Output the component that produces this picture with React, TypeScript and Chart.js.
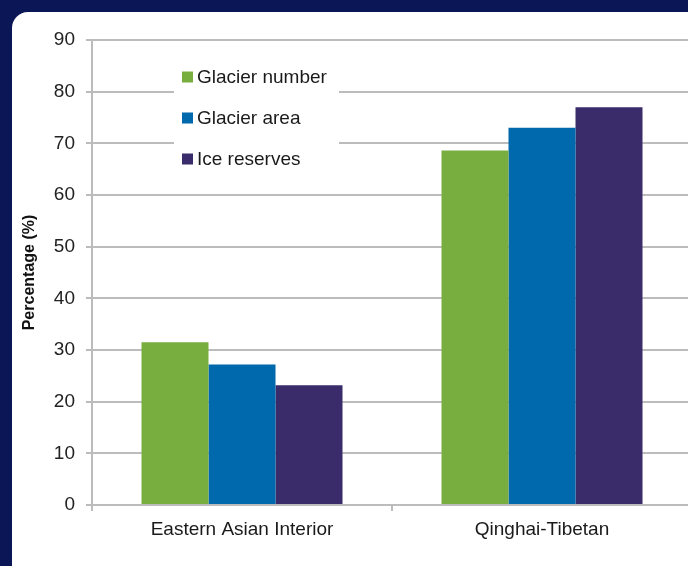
import React, { useEffect, useRef } from "react";
import { Chart, registerables } from "chart.js";

Chart.register(...registerables);

const categories = ["Eastern Asian Interior", "Qinghai-Tibetan"];
const seriesNames = ["Glacier number", "Glacier area", "Ice reserves"];
const glacierNumber = [31.5, 68.6];
const glacierArea = [27.2, 73.0];
const iceReserves = [23.2, 77.0];
const seriesColors = ["#78ad40", "#0068ad", "#3a2c6b"];
const yMin = 0;
const yMax = 90;
const yStep = 10;
const yTitle = "Percentage (%)";

const FONT = '"Liberation Sans", Arial, Helvetica, sans-serif';
const GRID = "#bcbcbc";

const insideLegend = {
  id: "insideLegend",
  afterDatasetsDraw(chart: any) {
    const { ctx, chartArea } = chart;
    const x0 = chartArea.left + 82;
    const y0 = chartArea.top + 15;
    ctx.save();
    ctx.fillStyle = "#ffffff";
    ctx.fillRect(x0, y0, 165, 124);
    chart.data.datasets.forEach((ds: any, i: number) => {
      const cy = chartArea.top + 37 + i * 41;
      ctx.fillStyle = ds.backgroundColor;
      ctx.fillRect(x0 + 8, cy - 5.5, 11, 11);
      ctx.fillStyle = "#1a1a1a";
      ctx.font = `19px ${FONT}`;
      ctx.textBaseline = "middle";
      ctx.textAlign = "left";
      ctx.fillText(ds.label, x0 + 23, cy + 1);
    });
    ctx.restore();
  },
};

export default function App() {
  const ref = useRef<HTMLCanvasElement | null>(null);

  useEffect(() => {
    if (!ref.current) return;
    const series = [glacierNumber, glacierArea, iceReserves];
    const chart = new Chart(ref.current, {
      type: "bar",
      data: {
        labels: categories,
        datasets: series.map((d, i) => ({
          label: seriesNames[i],
          data: d,
          backgroundColor: seriesColors[i],
          borderWidth: 0,
          categoryPercentage: 0.67,
          barPercentage: 1.0,
        })),
      },
      options: {
        responsive: false,
        animation: false,
        devicePixelRatio: 1,
        layout: { padding: { left: 0, right: 8, top: 40, bottom: 0 } },
        plugins: {
          legend: { display: false },
          tooltip: { enabled: false },
          title: { display: false },
        },
        scales: {
          x: {
            grid: {
              display: true,
              drawOnChartArea: false,
              drawTicks: true,
              tickLength: 6,
              color: GRID,
              lineWidth: 2,
            },
            border: { display: true, color: GRID, width: 2 },
            ticks: {
              color: "#1a1a1a",
              font: { family: FONT, size: 19 },
              padding: 7,
              maxRotation: 0,
            },
            afterFit: (s: any) => {
              s.height = 61;
            },
          },
          y: {
            min: yMin,
            max: yMax,
            grid: {
              color: GRID,
              lineWidth: 2,
              tickLength: 6,
              drawTicks: true,
            },
            border: { display: true, color: GRID, width: 2 },
            ticks: {
              stepSize: yStep,
              color: "#222222",
              font: { family: FONT, size: 19 },
              padding: 11,
            },
            title: {
              display: true,
              text: yTitle,
              color: "#111111",
              font: { family: FONT, size: 16, weight: "bold" },
              padding: { top: 20, bottom: 0 },
            },
            afterFit: (s: any) => {
              s.width = 92;
            },
          },
        },
      },
      plugins: [insideLegend],
    });
    return () => chart.destroy();
  }, []);

  return (
    <div
      style={{
        position: "fixed",
        left: 0,
        top: 0,
        width: 688,
        height: 566,
        overflow: "hidden",
        background: "#0b1656",
      }}
    >
      <div
        style={{
          position: "absolute",
          left: 12,
          top: 12,
          width: 720,
          height: 620,
          background: "#ffffff",
          borderRadius: 16,
        }}
      />
      <canvas
        ref={ref}
        width={700}
        height={566}
        style={{ position: "absolute", left: 0, top: 0, width: 700, height: 566 }}
      />
    </div>
  );
}
